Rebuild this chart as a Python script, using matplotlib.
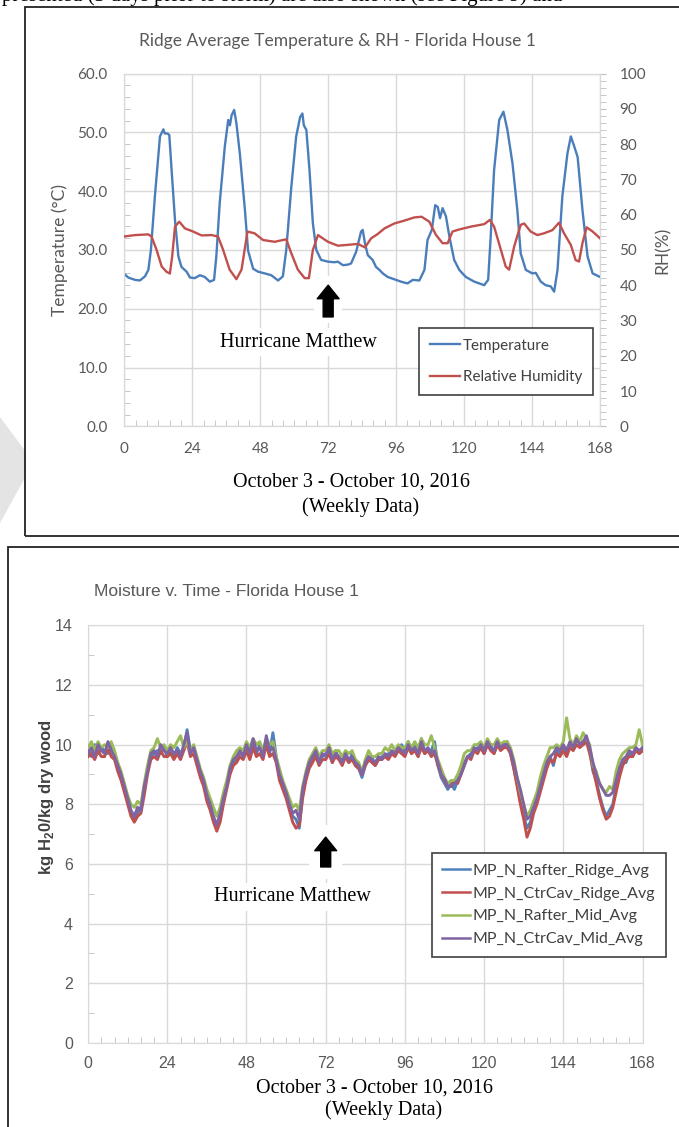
import matplotlib
matplotlib.use('Agg')
import matplotlib.pyplot as plt
from matplotlib.patches import Rectangle, Polygon
from matplotlib.lines import Line2D
from matplotlib.ticker import MultipleLocator, FormatStrFormatter

plt.rcParams['font.family'] = ['Lato', 'DejaVu Sans']
plt.rcParams['mathtext.fontset'] = 'custom'
plt.rcParams['mathtext.rm'] = 'Liberation Sans'
plt.rcParams['mathtext.bf'] = 'Liberation Sans:bold'

# ---- top chart: ridge temperature (deg C) and RH (%) ----
temp_hours = [0, 1.4, 3.8, 5.5, 7.3, 8.5, 9.4, 10.8, 12.6, 13.8, 14.3, 15.3, 15.9, 16.7,
              17.9, 19.1, 20.2, 22.0, 23.2, 24.9, 26.7, 28.4, 30.2, 31.7, 32.5, 33.7,
              35.5, 36.7, 37.3, 37.9, 38.8, 39.6, 40.8, 42.6, 43.7, 45.5, 47.2, 49.6,
              51.9, 54.3, 56.0, 57.2, 59.0, 60.7, 62.1, 62.9, 63.4, 64.3, 65.4, 66.6,
              67.8, 69.5, 71.9, 74.2, 75.4, 77.2, 79.0, 80.1, 81.9, 83.6, 84.2, 85.0,
              86.0, 87.7, 88.9, 90.1, 91.3, 93.0, 95.4, 97.7, 100.0, 101.9, 104.2,
              106.0, 107.1, 108.6, 109.8, 110.7, 111.5, 112.4, 113.6, 114.8, 116.5,
              118.3, 120.6, 123.6, 127.1, 128.5, 129.4, 130.6, 132.4, 133.9, 135.3,
              137.1, 138.8, 140.0, 141.8, 144.1, 145.3, 147.1, 148.8, 150.6, 151.8,
              153.0, 154.7, 156.5, 157.7, 158.9, 160.1, 161.8, 163.6, 165.4, 168.0]
temp_values = [25.9, 25.3, 24.9, 24.8, 25.5, 26.6, 30.0, 39.1, 49.3, 50.5, 49.8, 49.8, 49.5, 43.6,
               35.1, 28.9, 27.1, 26.3, 25.3, 25.2, 25.7, 25.4, 24.6, 24.9, 28.9, 38.0,
               47.6, 52.1, 51.2, 52.9, 53.8, 51.5, 46.4, 36.8, 29.9, 26.8, 26.3, 26.0,
               25.7, 24.8, 25.5, 30.0, 40.8, 49.3, 52.6, 53.2, 51.2, 50.4, 43.6, 34.5,
               30.0, 28.3, 28.0, 27.9, 28.0, 27.4, 27.5, 27.7, 29.7, 33.1, 33.4, 31.1,
               29.1, 28.3, 27.1, 26.6, 26.0, 25.4, 25.0, 24.6, 24.3, 24.9, 24.8,
               26.6, 31.7, 33.4, 37.6, 37.3, 35.4, 37.1, 35.7, 32.3, 28.3,
               26.6, 25.4, 24.6, 24.0, 24.9, 32.3, 43.6, 52.1, 53.5, 50.4,
               44.7, 36.8, 29.4, 26.6, 26.0, 26.1, 24.6, 24.0, 23.8, 22.9,
               26.6, 39.1, 46.4, 49.3, 47.6, 45.8, 36.8, 28.9, 26.0, 25.4]

rh_hours = [0, 3.8, 8.5, 9.6, 11.4, 13.2, 14.9, 16.1, 16.9, 17.9, 19.4, 21.4, 24.3, 27.3,
            30.8, 33.1, 34.9, 37.2, 39.6, 41.4, 43.5, 46.0, 49.0, 53.1, 57.2, 59.0,
            61.3, 63.7, 65.2, 66.6, 68.4, 71.9, 75.4, 78.5, 82.5, 85.0, 87.2, 89.5,
            91.9, 95.4, 98.9, 102.4, 105.0, 107.7, 110.1, 112.4, 114.2, 115.9, 118.3,
            122.4, 127.1, 129.1, 130.6, 133.0, 134.7, 135.9, 137.7, 140.0, 141.2,
            143.5, 145.9, 148.2, 151.2, 153.5, 155.3, 157.7, 159.4, 160.6, 161.8,
            163.3, 165.4, 168.0]
rh_values = [53.8, 54.2, 54.4, 53.8, 50.0, 45.3, 43.8, 43.3, 48.1, 56.6, 58.0, 56.1, 55.2, 54.1,
             54.2, 53.8, 50.0, 44.4, 41.7, 44.4, 55.2, 54.7, 52.8, 52.3, 53.0, 49.0,
             44.4, 42.0, 42.0, 50.0, 54.2, 52.3, 51.2, 51.4, 51.7, 50.7, 53.3, 54.5,
             56.1, 57.5, 58.3, 59.2, 59.4, 58.0, 54.2, 51.9, 51.9, 55.2, 55.8,
             56.6, 57.3, 58.5, 56.6, 50.0, 45.3, 44.4, 51.0, 57.1, 57.5,
             55.2, 54.2, 54.7, 55.6, 57.7, 54.7, 51.4, 47.1, 46.7, 51.9,
             56.4, 55.2, 53.3]

# ---- bottom chart: hourly moisture (kg H2O / kg dry wood), hours 0..168 ----
hours = list(range(169))
rafter_ridge = [
    9.8, 9.6, 10.0, 9.7, 9.9, 9.8, 9.7, 10.0, 9.7, 9.2, 8.9, 8.5,
    8.1, 7.7, 7.5, 7.7, 7.9, 8.5, 9.2, 9.6, 9.7, 9.8, 9.7, 9.9,
    9.6, 9.8, 9.6, 9.9, 9.7, 9.9, 10.5, 9.8, 9.8, 9.4, 9.0, 8.7,
    8.2, 7.9, 7.5, 7.2, 7.6, 8.1, 8.6, 9.1, 9.4, 9.5, 9.7, 9.7,
    9.9, 9.8, 10.0, 9.7, 10.0, 9.8, 10.1, 9.7, 10.4, 9.6, 8.9, 8.6,
    8.3, 7.9, 7.6, 7.5, 7.2, 8.3, 8.9, 9.3, 9.5, 9.7, 9.5, 9.6,
    9.7, 9.8, 9.4, 9.8, 9.5, 9.5, 9.6, 9.4, 9.7, 9.3, 9.2, 8.9,
    9.3, 9.5, 9.6, 9.3, 9.5, 9.6, 9.6, 9.7, 9.7, 9.8, 9.8, 10.0,
    9.8, 10.1, 9.7, 10.0, 9.6, 10.2, 9.7, 9.8, 9.8, 10.1, 9.3, 8.9,
    8.7, 8.5, 8.7, 8.5, 8.8, 9.1, 9.4, 9.6, 9.7, 9.8, 9.9, 9.9,
    9.7, 10.0, 10.0, 9.7, 10.0, 10.0, 9.9, 10.1, 9.7, 9.2, 8.7, 8.1,
    7.6, 7.2, 7.4, 7.8, 8.1, 8.6, 9.0, 9.3, 9.6, 9.3, 9.8, 9.7,
    9.9, 9.7, 10.0, 10.0, 10.1, 10.1, 10.0, 10.2, 9.8, 9.1, 8.8, 8.3,
    7.9, 7.6, 7.8, 8.0, 8.6, 9.1, 9.4, 9.4, 9.7, 9.6, 9.9, 9.7,
    9.8]
ctrcav_ridge = [
    9.6, 9.7, 9.5, 9.8, 9.6, 9.6, 9.9, 9.6, 9.5, 9.1, 8.8, 8.4,
    8.0, 7.6, 7.4, 7.6, 7.7, 8.3, 9.0, 9.5, 9.6, 9.5, 9.8, 9.6,
    9.6, 9.7, 9.5, 9.7, 9.5, 9.8, 10.1, 9.6, 9.7, 9.3, 8.9, 8.6,
    8.1, 7.8, 7.4, 7.1, 7.4, 8.0, 8.5, 9.0, 9.3, 9.4, 9.6, 9.5,
    9.8, 9.5, 9.9, 9.6, 9.7, 9.5, 10.0, 9.6, 9.7, 9.4, 8.8, 8.5,
    8.2, 7.8, 7.4, 7.2, 7.3, 8.2, 8.8, 9.2, 9.4, 9.6, 9.3, 9.5,
    9.5, 9.7, 9.4, 9.6, 9.5, 9.3, 9.6, 9.4, 9.5, 9.3, 9.2, 9.0,
    9.3, 9.5, 9.4, 9.3, 9.5, 9.5, 9.6, 9.5, 9.7, 9.6, 9.8, 9.7,
    9.6, 9.9, 9.7, 9.8, 9.6, 9.9, 9.7, 9.8, 9.6, 9.7, 9.3, 9.0,
    8.8, 8.6, 8.6, 8.8, 8.7, 9.0, 9.3, 9.6, 9.5, 9.8, 9.7, 9.9,
    9.7, 10.0, 9.8, 9.7, 10.0, 9.8, 9.9, 9.9, 9.7, 9.2, 8.6, 8.0,
    7.5, 6.9, 7.2, 7.7, 8.0, 8.4, 8.8, 9.2, 9.5, 9.4, 9.7, 9.6,
    9.8, 9.6, 9.9, 9.8, 10.0, 9.9, 10.0, 10.1, 9.7, 9.2, 8.7, 8.2,
    7.8, 7.5, 7.6, 7.9, 8.4, 8.9, 9.3, 9.5, 9.6, 9.6, 9.8, 9.7,
    9.8]
rafter_mid = [
    9.9, 10.1, 9.8, 10.1, 9.9, 10.0, 9.9, 10.1, 9.8, 9.4, 9.1, 8.7,
    8.3, 8.0, 7.9, 8.1, 8.0, 8.7, 9.3, 9.8, 9.9, 10.2, 9.9, 10.0,
    9.8, 10.0, 9.9, 10.1, 10.3, 9.9, 10.1, 9.8, 10.0, 9.6, 9.2, 8.9,
    8.5, 8.2, 7.9, 7.6, 7.9, 8.4, 8.8, 9.3, 9.6, 9.8, 9.9, 9.8,
    10.1, 9.9, 10.2, 10.0, 10.1, 9.8, 10.2, 10.0, 10.1, 9.6, 9.2, 8.8,
    8.5, 8.2, 7.9, 8.0, 7.8, 8.6, 9.1, 9.5, 9.7, 9.9, 9.6, 9.8,
    9.8, 10.0, 9.7, 9.8, 9.8, 9.6, 9.8, 9.7, 9.8, 9.5, 9.4, 9.1,
    9.5, 9.8, 9.6, 9.6, 9.7, 9.7, 9.9, 9.8, 10.0, 9.8, 10.0, 9.9,
    9.9, 10.1, 9.9, 10.1, 9.9, 10.2, 10.0, 10.0, 10.3, 9.9, 9.5, 9.2,
    8.9, 8.7, 8.8, 8.8, 9.0, 9.3, 9.7, 9.8, 9.8, 10.0, 10.0, 10.1,
    9.9, 10.2, 10.0, 10.0, 10.2, 10.0, 10.1, 10.1, 9.9, 9.5, 8.9, 8.4,
    8.0, 7.6, 7.8, 8.1, 8.4, 8.9, 9.3, 9.6, 9.9, 9.9, 10.0, 9.9,
    10.1, 10.9, 10.2, 10.0, 10.3, 10.1, 10.4, 10.2, 10.0, 9.3, 9.1, 8.7,
    8.5, 8.4, 8.6, 8.5, 9.1, 9.5, 9.7, 9.8, 9.9, 9.9, 10.0, 10.5,
    10.0]
ctrcav_mid = [
    9.7, 9.9, 9.6, 10.0, 9.8, 9.7, 10.1, 9.8, 9.6, 9.3, 9.0, 8.6,
    8.2, 7.8, 7.6, 7.9, 7.8, 8.6, 9.1, 9.7, 9.8, 9.6, 10.0, 9.8,
    9.7, 9.9, 9.7, 9.8, 9.6, 10.0, 10.4, 9.7, 9.9, 9.5, 9.1, 8.8,
    8.3, 8.0, 7.6, 7.3, 7.7, 8.2, 8.6, 9.2, 9.5, 9.6, 9.8, 9.6,
    10.0, 9.7, 10.2, 9.8, 9.9, 9.6, 10.3, 9.8, 9.9, 9.5, 9.0, 8.7,
    8.4, 8.0, 7.7, 7.8, 7.5, 8.5, 9.0, 9.4, 9.6, 9.8, 9.4, 9.7,
    9.6, 9.9, 9.5, 9.7, 9.6, 9.4, 9.7, 9.5, 9.6, 9.4, 9.3, 9.0,
    9.4, 9.6, 9.5, 9.4, 9.6, 9.5, 9.7, 9.6, 9.8, 9.7, 9.9, 9.8,
    9.7, 10.0, 9.8, 9.9, 9.7, 10.1, 9.8, 9.9, 9.7, 9.8, 9.4, 9.0,
    8.85, 8.6, 8.6, 8.7, 8.8, 9.0, 9.3, 9.6, 9.6, 9.9, 9.8, 10.0,
    9.8, 10.1, 9.9, 9.8, 10.1, 9.9, 10.0, 10.0, 9.8, 9.4, 8.9, 8.5,
    8.0, 7.5, 7.6, 7.9, 8.2, 8.6, 9.0, 9.4, 9.6, 9.7, 9.9, 9.8,
    10.0, 9.8, 10.1, 9.9, 10.2, 10.0, 10.1, 10.3, 9.9, 9.4, 9.0, 8.7,
    8.5, 8.3, 8.3, 8.4, 8.8, 9.2, 9.5, 9.6, 9.8, 9.7, 9.9, 9.8,
    9.9]

moisture_series = [('MP_N_Rafter_Ridge_Avg', rafter_ridge, '#4f81bd'),
                   ('MP_N_CtrCav_Ridge_Avg', ctrcav_ridge, '#c0504d'),
                   ('MP_N_Rafter_Mid_Avg', rafter_mid, '#9bbb59'),
                   ('MP_N_CtrCav_Mid_Avg', ctrcav_mid, '#8064a2')]

hour_ticks = list(range(0, 169, 24))

W, H = 679, 1127
GRID = '#d9d9d9'
TXT = '#595959'


def fx(px):
    return px / W


def fy(py):
    return 1 - py / H


def box(left, top, right, bottom):
    return [fx(left), fy(bottom), (right - left) / W, (bottom - top) / H]


fig = plt.figure(figsize=(W / 100, H / 100), dpi=100)

# page bits around the figures (the line of body text is cut by the page crop)
fig.text(fx(2), fy(1), 'presented (3 days prior to storm) are also shown (see Figure 9) and',
         family='Liberation Serif', fontsize=15, va='baseline', ha='left')
fig.add_artist(Polygon([(fx(0), fy(417)), (fx(26), fy(452)), (fx(26), fy(476)), (fx(0), fy(523))],
                       closed=True, transform=fig.transFigure, fc='#e4e4e4', ec='none'))
fig.add_artist(Rectangle((fx(25), fy(536)), (720 - 25) / W, (536 - 7) / H,
                         transform=fig.transFigure, fill=False, ec='#222222', lw=1.3))
fig.add_artist(Rectangle((fx(8), fy(1160)), (720 - 8) / W, (1160 - 547) / H,
                         transform=fig.transFigure, fill=False, ec='#222222', lw=1.3))

# ================= top chart =================
ax1 = fig.add_axes(box(124.3, 73.5, 600, 426.3))
ax1.plot(temp_hours, temp_values, color='#4a7ebb', lw=1.7, zorder=3)
ax1.set_xlim(0, 168)
ax1.set_ylim(0, 60)
ax1.set_xticks(hour_ticks)
ax1.xaxis.set_minor_locator(MultipleLocator(4))
ax1.yaxis.set_major_locator(MultipleLocator(10))
ax1.yaxis.set_minor_locator(MultipleLocator(2))
ax1.yaxis.set_major_formatter(FormatStrFormatter('%.1f'))
ax1.grid(which='major', color=GRID, lw=1.0)
ax1.set_axisbelow(True)
ax1.tick_params(which='both', direction='in', color='#bfbfbf', labelcolor=TXT, labelsize=11)
ax1.tick_params(which='major', length=0)
ax1.tick_params(which='minor', length=4)
ax1.tick_params(axis='x', pad=11)
ax1.tick_params(axis='y', pad=12)
for s in ax1.spines.values():
    s.set_color(GRID)

ax2 = ax1.twinx()
ax2.plot(rh_hours, rh_values, color='#c0504d', lw=1.7, zorder=3)
ax2.set_ylim(0, 100)
ax2.yaxis.set_major_locator(MultipleLocator(10))
ax2.yaxis.set_minor_locator(MultipleLocator(2))
ax2.tick_params(which='both', direction='out', color='#bfbfbf', labelcolor=TXT, labelsize=11, pad=10)
ax2.tick_params(which='major', length=4)
ax2.tick_params(which='minor', length=4)
for s in ax2.spines.values():
    s.set_color(GRID)

fig.text(fx(337), fy(41), 'Ridge Average Temperature & RH - Florida House 1',
         ha='center', va='center', fontsize=12.5, color=TXT)
fig.text(fx(60), fy(250), 'Temperature (°C)', rotation=90, ha='center', va='center',
         fontsize=12.5, color=TXT)
fig.text(fx(663), fy(250), 'RH(%)', rotation=90, ha='center', va='center',
         fontsize=12.5, color=TXT)
fig.text(fx(351), fy(482), 'October 3 - October 10, 2016', ha='center', va='center',
         family='Liberation Serif', fontsize=14.5)
fig.text(fx(361), fy(507), '(Weekly Data)', ha='center', va='center',
         family='Liberation Serif', fontsize=14.5)

# hurricane marker
ax1.add_patch(Rectangle((67, 17.5), 10, 8, fc='white', ec='none', zorder=1))
ax1.annotate('', xy=(72, 24.0), xytext=(72, 18.6),
             arrowprops=dict(arrowstyle='simple,head_length=0.65,head_width=1.05,tail_width=0.48',
                             fc='black', ec='black', mutation_scale=15, shrinkA=0, shrinkB=0),
             zorder=4)
ax1.text(61.6, 14.3, 'Hurricane Matthew', ha='center', va='center', family='Liberation Serif',
         fontsize=14.5, zorder=2, bbox=dict(fc='white', ec='none', pad=3))

handles = [Line2D([], [], color='#4a7ebb', lw=1.7), Line2D([], [], color='#c0504d', lw=1.7)]
leg1 = ax2.legend(handles, ['Temperature', 'Relative Humidity'], loc='upper left',
                  bbox_to_anchor=(fx(419), fy(328)), bbox_transform=fig.transFigure,
                  borderaxespad=0, fancybox=False, edgecolor='#404040', framealpha=1,
                  fontsize=11, labelcolor='#404040', handlelength=2.0, handletextpad=0.15,
                  labelspacing=1.15, borderpad=0.7)
leg1.get_frame().set_linewidth(1.2)

# ================= bottom chart =================
ax3 = fig.add_axes(box(88.1, 625.3, 642.5, 1043))
for name, vals, col in moisture_series:
    ax3.plot(hours, vals, color=col, lw=2.1, label=name, zorder=3)
ax3.set_xlim(0, 168)
ax3.set_ylim(0, 14)
ax3.set_xticks(hour_ticks)
ax3.xaxis.set_minor_locator(MultipleLocator(4))
ax3.yaxis.set_major_locator(MultipleLocator(2))
ax3.yaxis.set_minor_locator(MultipleLocator(1))
ax3.grid(which='major', color=GRID, lw=1.0)
ax3.set_axisbelow(True)
ax3.tick_params(which='both', direction='in', color='#bfbfbf', labelcolor=TXT, labelsize=11.5,
                labelfontfamily='Liberation Sans')
ax3.tick_params(which='major', length=0)
ax3.tick_params(which='minor', length=4)
ax3.tick_params(axis='x', pad=9)
ax3.tick_params(axis='y', pad=11)
for s in ax3.spines.values():
    s.set_color(GRID)

fig.text(fx(94), fy(592), 'Moisture v. Time - Florida House 1', ha='left', va='center',
         fontsize=12.5, color=TXT, family='Liberation Sans')
fig.text(fx(47), fy(797), 'kg H$_\\mathbf{2}$0/kg dry wood', rotation=90, ha='center', va='center',
         fontsize=12, fontweight='bold', color='#404040', family='Liberation Sans')
fig.text(fx(374), fy(1088), 'October 3 - October 10, 2016', ha='center', va='center',
         family='Liberation Serif', fontsize=14.5)
fig.text(fx(384), fy(1110), '(Weekly Data)', ha='center', va='center',
         family='Liberation Serif', fontsize=14.5)

ax3.add_patch(Rectangle((67, 5.5), 10, 1.8, fc='white', ec='none', zorder=1))
ax3.annotate('', xy=(72, 6.9), xytext=(72, 5.9),
             arrowprops=dict(arrowstyle='simple,head_length=0.65,head_width=1.05,tail_width=0.48',
                             fc='black', ec='black', mutation_scale=15, shrinkA=0, shrinkB=0),
             zorder=4)
ax3.text(61.8, 4.9, 'Hurricane Matthew', ha='center', va='center', family='Liberation Serif',
         fontsize=14.5, zorder=2, bbox=dict(fc='white', ec='none', pad=3))

leg2 = ax3.legend(loc='upper left', bbox_to_anchor=(fx(432), fy(853)), bbox_transform=fig.transFigure,
                  borderaxespad=0, fancybox=False, edgecolor='#404040', framealpha=1,
                  prop={'family': 'Lato', 'size': 11.5}, labelcolor='#404040', handlelength=1.75,
                  handletextpad=0.15, labelspacing=0.55, borderpad=0.65)
leg2.get_frame().set_linewidth(1.2)
for line in leg2.get_lines():
    line.set_linewidth(1.8)

fig.savefig('out.png', dpi=100)
